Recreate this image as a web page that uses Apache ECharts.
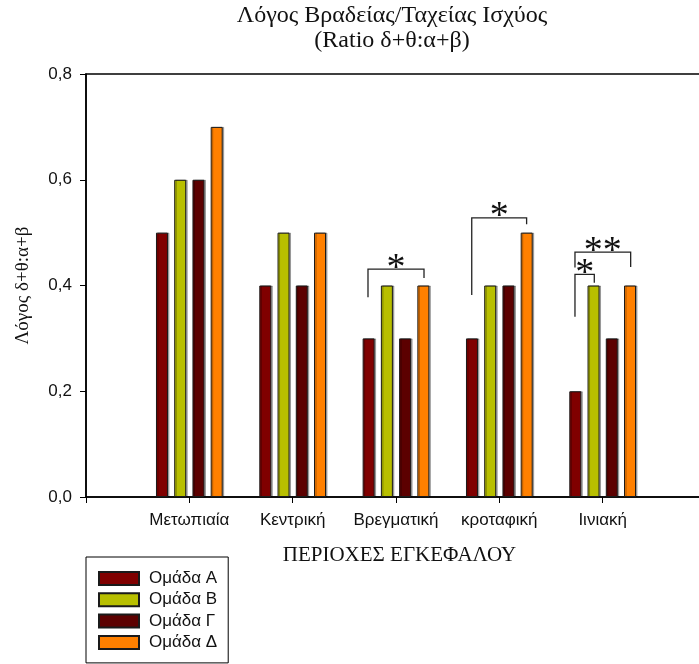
<!DOCTYPE html>
<html><head><meta charset="utf-8">
<script src="https://cdn.jsdelivr.net/npm/echarts@6/dist/echarts.min.js"></script>
<style>html,body{margin:0;padding:0;background:#fff}#c{width:699px;height:664px}</style>
</head><body><div id="c"></div>
<script>
const categories = ['Μετωπιαία', 'Κεντρική', 'Βρεγματική', 'κροταφική', 'Ιινιακή'];
const groupNames = ['Ομάδα Α', 'Ομάδα Β', 'Ομάδα Γ', 'Ομάδα Δ'];
const groupA = [0.5, 0.4, 0.3, 0.3, 0.2];
const groupB = [0.6, 0.5, 0.4, 0.4, 0.4];
const groupG = [0.6, 0.4, 0.3, 0.4, 0.3];
const groupD = [0.7, 0.5, 0.4, 0.5, 0.4];
const yTicks = [0, 0.2, 0.4, 0.6, 0.8];
// significance brackets, in data coordinates (x: category position, y: ratio)
const bracketX1 = [2.729, 3.733, 4.732, 4.732];
const bracketX2 = [3.271, 4.264, 5.271, 4.919];
const bracketTop = [0.431, 0.528, 0.463, 0.421];
const bracketLeftEnd = [0.378, 0.382, 0.434, 0.341];
const bracketRightEnd = [0.414, 0.516, 0.435, 0.405];
const bracketLabels = ['*', '*', '**', '*'];

const colors = ['#800000', '#b8bf00', '#5c0000', '#ff8000'];
const groups = [groupA, groupB, groupG, groupD];
const chart = echarts.init(document.getElementById('c'), null, {renderer: 'canvas'});
const sans = 'Liberation Sans';
const serif = 'Liberation Serif';
const starSize = 38;

const barSeries = groups.map((vals, i) => ({
  type: 'bar',
  name: groupNames[i],
  data: vals.map((v, j) => [j + 1, v]),
  barWidth: 12,
  barGap: '52%',
  itemStyle: {color: colors[i], borderColor: '#1a1a1a', borderWidth: 1,
              shadowColor: 'rgba(0,0,0,0.3)', shadowOffsetX: 1.5, shadowOffsetY: 0, shadowBlur: 0},
  emphasis: {disabled: true},
  z: 2
}));

const bracketSeries = {
  type: 'custom',
  silent: true,
  z: 5,
  data: bracketX1.map((x, i) => [x, bracketX2[i], bracketTop[i], bracketLeftEnd[i], bracketRightEnd[i]]),
  renderItem: (params, api) => {
    const x1 = api.value(0), x2 = api.value(1), top = api.value(2), le = api.value(3), re = api.value(4);
    const pTL = api.coord([x1, top]), pTR = api.coord([x2, top]);
    const pBL = api.coord([x1, le]), pBR = api.coord([x2, re]);
    return {
      type: 'group',
      children: [
        {type: 'polyline', shape: {points: [pBL, pTL, pTR, pBR]}, style: {stroke: '#222', lineWidth: 1.3, fill: 'none'}},
        {type: 'text', x: (pTL[0] + pTR[0]) / 2, y: pTL[1] - 10 + 0.25 * starSize,
         style: {text: bracketLabels[params.dataIndex], font: starSize + 'px "Liberation Serif"', align: 'center', verticalAlign: 'middle', fill: '#111'}}
      ]
    };
  }
};

chart.setOption({
  animation: false,
  backgroundColor: '#fff',
  title: {
    text: 'Λόγος Βραδείας/Ταχείας Ισχύος\n(Ratio δ+θ:α+β)',
    left: 392, top: 3.5, textAlign: 'center',
    padding: 0,
    textStyle: {fontFamily: serif, fontSize: 24, fontWeight: 'normal', lineHeight: 25, color: '#111'}
  },
  grid: {left: 86, top: 74, width: 620, height: 423, show: true, borderColor: '#000', borderWidth: 1.5, containLabel: false, outerBoundsMode: 'none'},
  legend: {
    data: groupNames, orient: 'vertical', left: 86, top: 557,
    itemWidth: 40, itemHeight: 13, itemGap: 4.3,
    padding: [13, 11, 12, 12], borderColor: '#000', borderWidth: 1,
    icon: 'rect', selectedMode: false,
    itemStyle: {shadowColor: 'rgba(0,0,0,0)', shadowOffsetX: 0, shadowBlur: 0},
    textStyle: {fontSize: 17, fontFamily: sans, color: '#111', lineHeight: 17, padding: [0, 0, 0, 5]}
  },
  xAxis: {
    type: 'value', min: 0, max: 6, interval: 1,
    axisLine: {show: true, onZero: false, lineStyle: {color: '#000', width: 1.5}},
    axisTick: {show: true, length: 6, lineStyle: {color: '#000'}},
    axisLabel: {
      formatter: v => (Number.isInteger(v) && v >= 1 && v <= categories.length) ? categories[v - 1] : '',
      fontSize: 17, fontFamily: sans, color: '#111', margin: 15
    },
    splitLine: {show: false},
    name: 'ΠΕΡΙΟΧΕΣ ΕΓΚΕΦΑΛΟΥ', nameLocation: 'middle', nameGap: 48,
    nameTextStyle: {fontFamily: serif, fontSize: 21, color: '#111', padding: [0, 0, 0, 7]}
  },
  yAxis: {
    type: 'value', min: yTicks[0], max: yTicks[yTicks.length - 1], interval: yTicks[1] - yTicks[0],
    axisLine: {show: true, lineStyle: {color: '#000', width: 1.5}},
    axisTick: {show: true, length: 6, lineStyle: {color: '#000'}},
    axisLabel: {formatter: v => v.toFixed(1).replace('.', ','), fontSize: 17, fontFamily: sans, color: '#111', margin: 14},
    splitLine: {show: false},
    name: 'Λόγος δ+θ:α+β', nameLocation: 'middle', nameGap: 53, nameRotate: 90,
    nameTextStyle: {fontFamily: serif, fontSize: 19, color: '#111'}
  },
  series: [...barSeries, bracketSeries]
});
</script>
</body></html>
